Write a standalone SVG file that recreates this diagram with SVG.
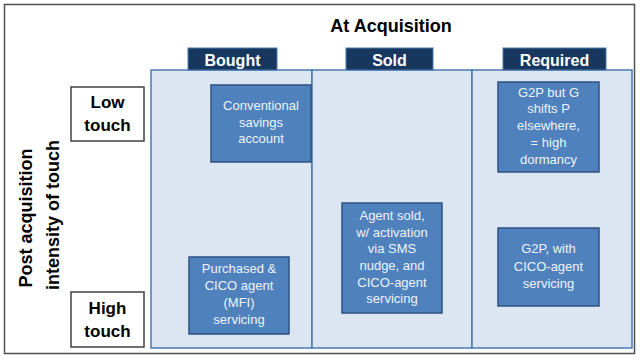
<svg xmlns="http://www.w3.org/2000/svg" width="640" height="360" viewBox="0 0 640 360">
<defs>
<style>
.frame{fill:#ffffff;stroke:#505050;stroke-width:1.5}
.panel{fill:#dce6f2;stroke:#4a7ab0;stroke-width:1.5}
.tab{fill:#17375e;stroke:#4a7ab0;stroke-width:1}
.tabt{font-family:"Liberation Sans",Arial,sans-serif;font-weight:bold;font-size:16px;fill:#ffffff;text-anchor:middle}
.title{font-family:"Liberation Sans",Arial,sans-serif;font-weight:bold;font-size:18px;fill:#000000;text-anchor:middle}
.rowbox{fill:#ffffff;stroke:#404040;stroke-width:1.5}
.rowt{font-family:"Liberation Sans",Arial,sans-serif;font-weight:bold;font-size:17px;fill:#000000;text-anchor:middle}
.axis{font-family:"Liberation Sans",Arial,sans-serif;font-weight:bold;font-size:18px;fill:#000000;text-anchor:middle}
.box{fill:#4f81bd;stroke:#2c5282;stroke-width:1.5}
.boxt{font-family:"Liberation Sans",Arial,sans-serif;font-size:13px;fill:#eef3fa;text-anchor:middle}
</style>
</defs>
<rect class="frame" x="4.5" y="4.5" width="630" height="349"/>
<text class="title" x="391" y="32">At Acquisition</text>
<g id="axis">
<text class="axis" transform="translate(32,218) rotate(-90)">Post acquisition</text>
<text class="axis" transform="translate(59,215) rotate(-90)">intensity of touch</text>
</g>
<g id="col-bought">
<rect class="panel" x="151" y="70" width="161" height="278"/>
<rect class="tab" x="188" y="48" width="89" height="22"/>
<text class="tabt" x="232.5" y="66">Bought</text>
</g>
<g id="col-sold">
<rect class="panel" x="312" y="70" width="160" height="278"/>
<rect class="tab" x="346" y="48" width="87" height="22"/>
<text class="tabt" x="389.5" y="66">Sold</text>
</g>
<g id="col-required">
<rect class="panel" x="472" y="70" width="160" height="278"/>
<rect class="tab" x="503" y="48" width="103" height="22"/>
<text class="tabt" x="554.5" y="66">Required</text>
</g>
<g id="low-touch">
<rect class="rowbox" x="71" y="87" width="73" height="54"/>
<text class="rowt" x="107.5" y="108">Low</text>
<text class="rowt" x="107.5" y="131">touch</text>
</g>
<g id="high-touch">
<rect class="rowbox" x="71" y="292" width="73" height="55"/>
<text class="rowt" x="107.5" y="314">High</text>
<text class="rowt" x="107.5" y="337">touch</text>
</g>
<g id="conventional">
<rect class="box" x="211" y="85" width="100" height="77"/>
<text class="boxt" x="261" y="110">Conventional</text>
<text class="boxt" x="261" y="127">savings</text>
<text class="boxt" x="261" y="143">account</text>
</g>
<g id="purchased">
<rect class="box" x="189" y="257" width="100" height="77"/>
<text class="boxt" x="239" y="273">Purchased &amp;</text>
<text class="boxt" x="239" y="290">CICO agent</text>
<text class="boxt" x="239" y="307">(MFI)</text>
<text class="boxt" x="239" y="324">servicing</text>
</g>
<g id="agent-sold">
<rect class="box" x="342" y="203" width="100" height="110"/>
<text class="boxt" x="392" y="220">Agent sold,</text>
<text class="boxt" x="392" y="237">w/ activation</text>
<text class="boxt" x="392" y="253">via SMS</text>
<text class="boxt" x="392" y="270">nudge, and</text>
<text class="boxt" x="392" y="287">CICO-agent</text>
<text class="boxt" x="392" y="303">servicing</text>
</g>
<g id="g2p-dormancy">
<rect class="box" x="498" y="82" width="101" height="90"/>
<text class="boxt" x="548.5" y="97">G2P but G</text>
<text class="boxt" x="548.5" y="113">shifts P</text>
<text class="boxt" x="548.5" y="130">elsewhere,</text>
<text class="boxt" x="548.5" y="147">= high</text>
<text class="boxt" x="548.5" y="164">dormancy</text>
</g>
<g id="g2p-cico">
<rect class="box" x="498" y="228" width="101" height="78"/>
<text class="boxt" x="548.5" y="253">G2P, with</text>
<text class="boxt" x="548.5" y="271">CICO-agent</text>
<text class="boxt" x="548.5" y="288">servicing</text>
</g>
<g id="connectors"/>
</svg>
